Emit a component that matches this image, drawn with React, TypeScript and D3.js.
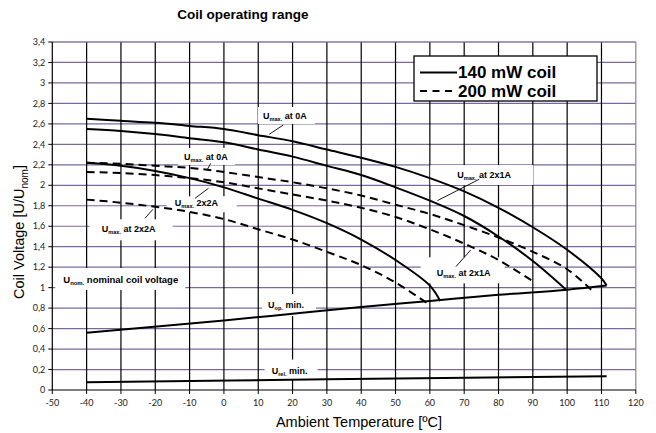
import * as d3 from 'd3';

// ---- data ----
const xTicks = [-50, -40, -30, -20, -10, 0, 10, 20, 30, 40, 50, 60, 70, 80, 90, 100, 110, 120];
const yTicks = [0, 0.2, 0.4, 0.6, 0.8, 1, 1.2, 1.4, 1.6, 1.8, 2, 2.2, 2.4, 2.6, 2.8, 3, 3.2, 3.4];

// 140 mW coil (solid)
const umax0A140: [number, number][] = [
  [-40, 2.65], [-30, 2.63], [-20, 2.61], [-10, 2.58], [0, 2.55], [10, 2.49], [20, 2.43], [30, 2.35],
  [40, 2.27], [50, 2.18], [60, 2.07], [70, 1.94], [80, 1.78], [90, 1.59], [100, 1.37], [110, 1.09], [111.5, 1.02],
];
const umax2x1A140: [number, number][] = [
  [-40, 2.55], [-30, 2.53], [-20, 2.5], [-10, 2.46], [0, 2.42], [10, 2.35], [20, 2.28], [30, 2.19],
  [40, 2.1], [50, 1.98], [60, 1.85], [70, 1.7], [80, 1.5], [90, 1.26], [99.7, 0.98],
];
const umax2x2A140: [number, number][] = [
  [-40, 2.22], [-30, 2.19], [-20, 2.14], [-10, 2.07], [0, 1.98], [10, 1.87], [20, 1.76], [30, 1.63],
  [40, 1.47], [50, 1.27], [60, 1.02], [63, 0.87],
];

// 200 mW coil (dashed)
const umax0A200: [number, number][] = [
  [-40, 2.22], [-30, 2.21], [-20, 2.19], [-10, 2.17], [0, 2.13], [10, 2.08], [20, 2.03], [30, 1.97],
  [40, 1.9], [50, 1.81], [60, 1.72], [70, 1.61], [80, 1.49], [90, 1.35], [100, 1.18], [107, 0.98],
];
const umax2x1A200: [number, number][] = [
  [-40, 2.13], [-30, 2.12], [-20, 2.1], [-10, 2.07], [0, 2.03], [10, 1.97], [20, 1.91], [30, 1.85],
  [40, 1.78], [50, 1.69], [60, 1.57], [70, 1.43], [80, 1.27], [90.6, 1.05],
];
const umax2x2A200: [number, number][] = [
  [-40, 1.86], [-30, 1.83], [-20, 1.79], [-10, 1.74], [0, 1.67], [10, 1.57], [20, 1.47], [30, 1.35],
  [40, 1.22], [50, 1.05], [60, 0.83],
];

// minimum voltages
const uopMin: [number, number][] = [
  [-40, 0.56], [0, 0.68], [20, 0.745], [40, 0.81], [60, 0.87], [80, 0.93], [100, 0.98], [111.5, 1.02],
];
const urelMin: [number, number][] = [[-40, 0.075], [30, 0.105], [111.5, 0.135]];

const solidSeries = [umax0A140, umax2x1A140, umax2x2A140, uopMin, urelMin];
const dashedSeries = [umax0A200, umax2x1A200, umax2x2A200];

// annotations: text parts, anchor (temp, voltage), white box offsets, leader line
type Note = {
  parts: [string, string, string];
  t: number; v: number;
  box: [number, number, number, number]; // dx, width, dyTop, dyBottom
  leader?: [number, number, number, number];
  size?: number;
};
const notes: Note[] = [
  { parts: ['U', 'max.', ' at 0A'], t: 11.4, v: 2.677, box: [-5, 57, -9, 8], leader: [17.3, 2.589, 13.2, 2.498] },
  { parts: ['U', 'max.', ' at 0A'], t: -11.6, v: 2.277, box: [-6, 57, -9, 8], leader: [-3.85, 2.215, -4.8, 2.156] },
  { parts: ['U', 'max.', ' 2x2A'], t: -14.3, v: 1.824, box: [-8, 70, -7, 9], leader: [-8.4, 1.873, -4.5, 1.971] },
  { parts: ['U', 'max.', ' at 2x2A'], t: -35.6, v: 1.57, box: [-12, 83, -10, 11], leader: [-23, 1.678, -20.7, 1.765] },
  { parts: ['U', 'max.', ' at 2x1A'], t: 68, v: 2.1, box: [-27, 103, -10, 10], leader: [74.4, 2.059, 62.2, 1.85] },
  { parts: ['U', 'max.', ' at 2x1A'], t: 62, v: 1.14, box: [-16, 84, -16, 10], leader: [67.6, 1.205, 71.9, 1.368] },
  { parts: ['U', 'nom.', ' nominal coil voltage'], t: -46.8, v: 1.075, box: [-8, 130, -12, 10], size: 9.5 },
  { parts: ['U', 'op.', ' min.'], t: 12.85, v: 0.83, box: [-6, 54, -11, 11] },
  { parts: ['U', 'rel.', ' min.'], t: 13.9, v: 0.19, box: [-7, 53, -11, 9] },
];

const W = 656;
const H = 433;
const left = 52.3, right = 635.8, top = 42, bottom = 390;
const gridPurple = '#7a6a9c';
const labelFont = '"Liberation Sans", Arial, sans-serif';

const fmt = (v: number) => String(+v.toFixed(1)).replace('.', ',');

export default function App() {
  const x = d3.scaleLinear().domain([-50, 120]).range([left, right]);
  const y = d3.scaleLinear().domain([0, 3.4]).range([bottom, top]);
  const line = d3.line<[number, number]>()
    .x(d => x(d[0]))
    .y(d => y(d[1]))
    .curve(d3.curveCatmullRom.alpha(0.5));

  return (
    <svg width={W} height={H} style={{ position: 'absolute', left: 0, top: 0, background: '#fff' }}
      fontFamily={labelFont}>
      {/* title */}
      <text x={243} y={19} textAnchor="middle" fontSize={13.5} fontWeight="bold">Coil operating range</text>

      {/* horizontal grid */}
      {yTicks.filter(v => v > 0).map(v => (
        <line key={'h' + v} x1={left} x2={right} y1={y(v)} y2={y(v)} stroke={gridPurple} strokeWidth={1.2} />
      ))}
      {/* vertical grid */}
      {xTicks.filter(t => t > -50 && t < 120).map(t => (
        <line key={'v' + t} x1={x(t)} x2={x(t)} y1={top} y2={bottom} stroke="#000" strokeWidth={1.2} />
      ))}
      {/* plot border (right) */}
      <line x1={right} x2={right} y1={top} y2={bottom} stroke="#888" strokeWidth={1.2} />
      <line x1={left} x2={right} y1={top} y2={top} stroke="#8a80a0" strokeWidth={1.2} />

      {/* white label boxes */}
      {notes.map((n, i) => (
        <rect key={'b' + i} x={x(n.t) + n.box[0]} y={y(n.v) + n.box[2]} width={n.box[1]}
          height={n.box[3] - n.box[2]} fill="#fff" />
      ))}

      {/* axes */}
      <line x1={left} x2={left} y1={top} y2={bottom} stroke="#000" strokeWidth={1.2} />
      <line x1={left} x2={right} y1={bottom} y2={bottom} stroke="#000" strokeWidth={1.2} />
      {yTicks.map(v => (
        <g key={'yt' + v}>
          <line x1={left - 4} x2={left} y1={y(v)} y2={y(v)} stroke="#000" />
          <text x={left - 7} y={y(v) + 3.2} textAnchor="end" fontSize={9} fontFamily="Lato, sans-serif" fill="#222">{fmt(v)}</text>
        </g>
      ))}
      {xTicks.map(t => (
        <g key={'xt' + t}>
          <line x1={x(t)} x2={x(t)} y1={bottom} y2={bottom + 4} stroke="#000" />
          <text x={x(t)} y={bottom + 16} textAnchor="middle" fontSize={9} fontFamily="Lato, sans-serif" fill="#222">{t}</text>
        </g>
      ))}

      {/* axis titles */}
      <text x={359} y={427} textAnchor="middle" fontSize={14.5}>Ambient Temperature [ºC]</text>
      <text transform={`translate(24,${(top + bottom) / 2 + 16}) rotate(-90)`} textAnchor="middle" fontSize={14.5}>
        Coil Voltage [U/U<tspan fontSize={10} dy={4}>nom</tspan><tspan dy={-4}>]</tspan>
      </text>

      {/* curves */}
      {solidSeries.map((s, i) => (
        <path key={'s' + i} d={line(s) ?? ''} fill="none" stroke="#000" strokeWidth={2} />
      ))}
      {dashedSeries.map((s, i) => (
        <path key={'d' + i} d={line(s) ?? ''} fill="none" stroke="#000" strokeWidth={2} strokeDasharray="8,5" />
      ))}

      {/* annotation text + leaders */}
      {notes.map((n, i) => {
        const fs = n.size ?? 9;
        return (
          <g key={'n' + i}>
            {n.leader && (
              <line x1={x(n.leader[0])} y1={y(n.leader[1])} x2={x(n.leader[2])} y2={y(n.leader[3])}
                stroke="#000" strokeWidth={0.9} />
            )}
            <text x={x(n.t)} y={y(n.v) + 3} fontSize={fs} fontWeight="bold">
              {n.parts[0]}
              <tspan fontSize={fs * 0.62} dy={2}>{n.parts[1]}</tspan>
              <tspan dy={-2}>{n.parts[2]}</tspan>
            </text>
          </g>
        );
      })}

      {/* legend */}
      <rect x={414} y={56} width={183} height={45} fill="#fff" stroke="#000" strokeWidth={1.3} />
      <line x1={420} x2={457} y1={72.5} y2={72.5} stroke="#000" strokeWidth={2} />
      <text x={458} y={78} fontSize={17} fontWeight="bold">140 mW coil</text>
      <line x1={420} x2={457} y1={91} y2={91} stroke="#000" strokeWidth={2} strokeDasharray="7,5.5" />
      <text x={458} y={97} fontSize={17} fontWeight="bold">200 mW coil</text>
    </svg>
  );
}
